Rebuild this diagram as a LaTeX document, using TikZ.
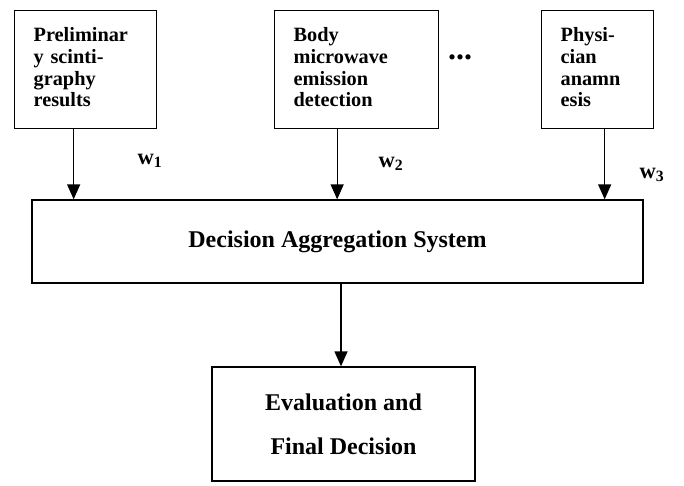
\documentclass[tikz,border=0pt]{standalone}
\usepackage{fontspec}
\setmainfont{Liberation Serif}
\usetikzlibrary{arrows.meta,calc,positioning}

\begin{document}
\begin{tikzpicture}[
  x=1pt, y=-1pt,
  srcbox/.style={draw, line width=1.3pt, anchor=north west, align=left,
               inner xsep=19pt, inner ysep=0pt, minimum height=118pt,
               font=\fontsize{20.3}{21.7}\selectfont\bfseries},
  bigbox/.style={draw, line width=1.3pt, align=center,
               font=\fontsize{24}{28}\selectfont\bfseries},
  wlab/.style={font=\fontsize{22.5}{24}\selectfont\bfseries},
  arr/.style={-{Triangle[length=15pt, width=13pt]}, line width=1.3pt}
]
  \useasboundingbox (0,0) rectangle (684,485);

  % source boxes
  \node[srcbox, text width=104pt] (s1) at (14,10) {Preliminar\\y scinti-\\graphy\\results\rule[-5pt]{0pt}{5pt}};
  \node[srcbox, text width=126pt] (s2) at (274,10) {Body\\microwave\\emission\\detection\rule[-5pt]{0pt}{5pt}};
  \node[srcbox, text width=74pt] (s3) at (541,10) {Physi-\\cian\\anamn\\esis\rule[-5pt]{0pt}{5pt}};
  \node[font=\fontsize{32}{32}\selectfont\bfseries] (dots) at (460,57) {...};

  % aggregation and final decision
  \node[bigbox, minimum width=611pt, minimum height=83pt] (agg) at (337.5,241.5)
    {Decision Aggregation System};
  \node[bigbox, minimum width=263pt, minimum height=114pt] (fin) at (343.5,424)
    {Evaluation and\\[16pt]Final Decision};

  \draw[arr] ([xshift=-12pt]s1.south) -- ([xshift=-12pt]s1.south |- agg.north);
  \draw[arr] ([xshift=-19.5pt]s2.south) -- ([xshift=-19.5pt]s2.south |- agg.north);
  \draw[arr] ([xshift=7pt]s3.south) -- ([xshift=7pt]s3.south |- agg.north);
  \draw[arr] ([xshift=-2.5pt]fin.north |- agg.south) -- ([xshift=-2.5pt]fin.north);

  % weights
  \node[wlab] (w1) at (150,161) {w$_{\mathbf{1}}$};
  \node[wlab] (w2) at (391,164) {w$_{\mathbf{2}}$};
  \node[wlab] (w3) at (652,175) {w$_{\mathbf{3}}$};
\end{tikzpicture}
\end{document}
